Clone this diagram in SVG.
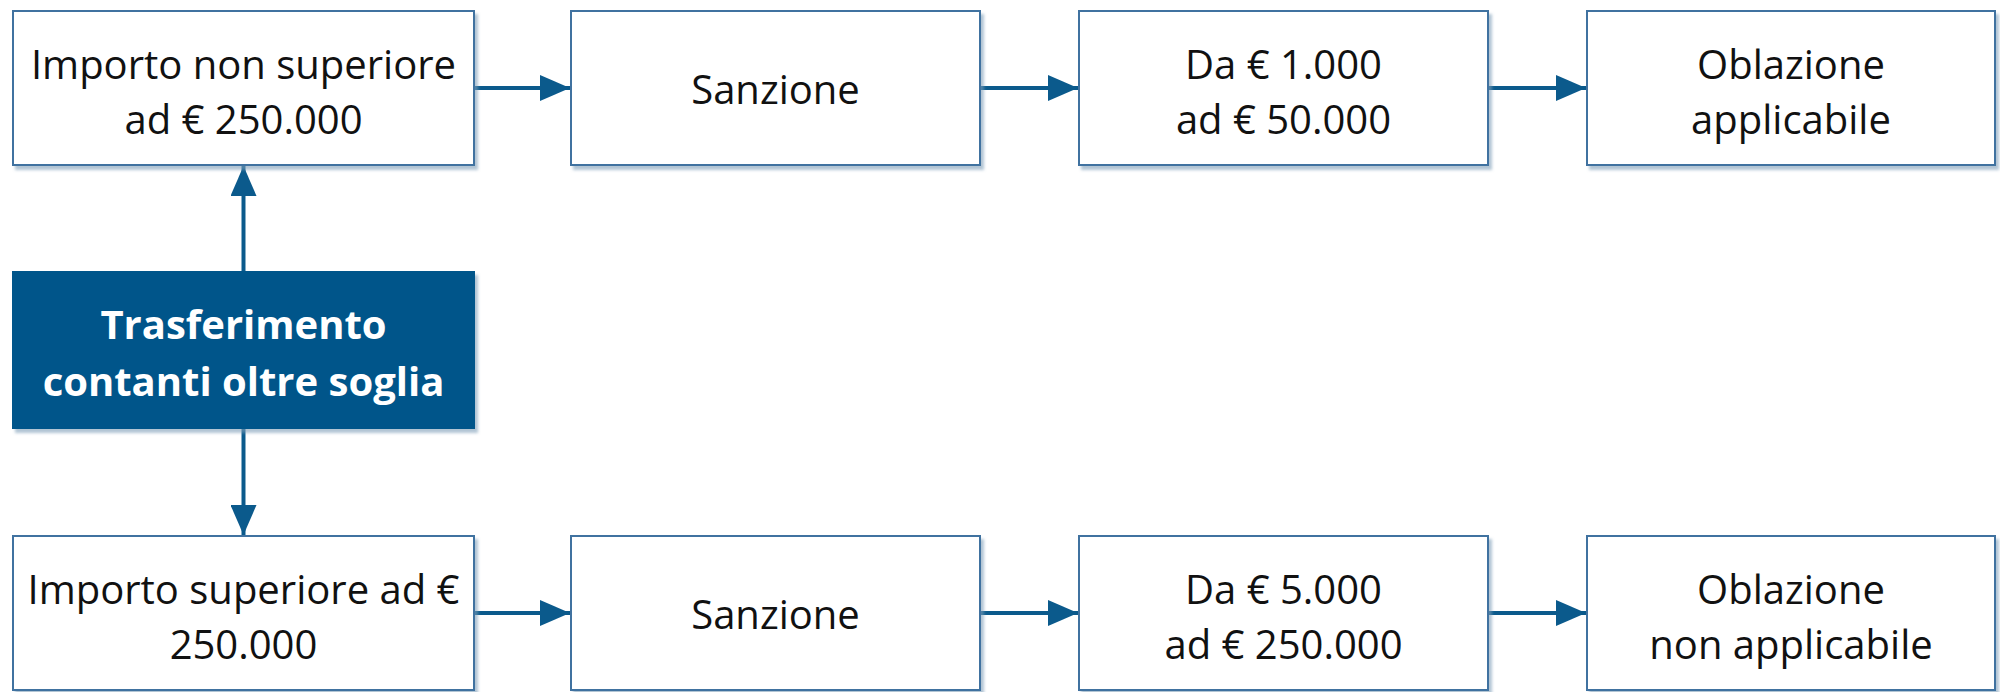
<svg xmlns="http://www.w3.org/2000/svg" width="2000" height="692" viewBox="0 0 2000 692">
  <defs>
    <filter id="sh" x="-5%" y="-5%" width="115%" height="120%">
      <feDropShadow dx="3" dy="4" stdDeviation="1.5" flood-color="#7f9db8" flood-opacity="0.6"/>
    </filter>
    <marker id="ah" markerUnits="userSpaceOnUse" markerWidth="30" markerHeight="26" refX="30" refY="13" orient="auto">
      <path d="M0,0 L30,13 L0,26 Z" fill="#0b5a8c"/>
    </marker>
    <style>
      .box { fill: #ffffff; stroke: #3f72a0; stroke-width: 2; filter: url(#sh); }
      .main { fill: #02558a; stroke: #02558a; stroke-width: 2; filter: url(#sh); }
      .t { font-family: "Open Sans", "Noto Sans", sans-serif; font-size: 40px; fill: #111111; text-anchor: middle; }
      .tb { font-family: "Open Sans", "Noto Sans", sans-serif; font-size: 40px; font-weight: bold; fill: #ffffff; text-anchor: middle; }
      .c { stroke: #0b5a8c; stroke-width: 4; fill: none; marker-end: url(#ah); }
    </style>
  </defs>
  <rect width="2000" height="692" fill="#ffffff"/>

  <g id="connectors">
    <line class="c" x1="243.5" y1="272" x2="243.5" y2="166"/>
    <line class="c" x1="243.5" y1="428" x2="243.5" y2="535"/>
    <line class="c" x1="474" y1="88" x2="570" y2="88"/>
    <line class="c" x1="980" y1="88" x2="1078" y2="88"/>
    <line class="c" x1="1488" y1="88" x2="1586" y2="88"/>
    <line class="c" x1="474" y1="613" x2="570" y2="613"/>
    <line class="c" x1="980" y1="613" x2="1078" y2="613"/>
    <line class="c" x1="1488" y1="613" x2="1586" y2="613"/>
  </g>

  <g id="main">
    <rect class="main" x="13" y="272" width="461" height="156"/>
    <text class="tb" x="243.5" y="339">Trasferimento</text>
    <text class="tb" x="243.5" y="396">contanti oltre soglia</text>
  </g>

  <g id="top1">
    <rect class="box" x="13" y="11" width="461" height="154"/>
    <text class="t" x="243.5" y="79">Importo non superiore</text>
    <text class="t" x="243.5" y="134">ad € 250.000</text>
  </g>
  <g id="top2">
    <rect class="box" x="571" y="11" width="409" height="154"/>
    <text class="t" x="775.5" y="104">Sanzione</text>
  </g>
  <g id="top3">
    <rect class="box" x="1079" y="11" width="409" height="154"/>
    <text class="t" x="1283.5" y="79">Da € 1.000</text>
    <text class="t" x="1283.5" y="134">ad € 50.000</text>
  </g>
  <g id="top4">
    <rect class="box" x="1587" y="11" width="408" height="154"/>
    <text class="t" x="1791" y="79">Oblazione</text>
    <text class="t" x="1791" y="134">applicabile</text>
  </g>

  <g id="bot1">
    <rect class="box" x="13" y="536" width="461" height="154"/>
    <text class="t" x="243.5" y="604">Importo superiore ad €</text>
    <text class="t" x="243.5" y="659">250.000</text>
  </g>
  <g id="bot2">
    <rect class="box" x="571" y="536" width="409" height="154"/>
    <text class="t" x="775.5" y="629">Sanzione</text>
  </g>
  <g id="bot3">
    <rect class="box" x="1079" y="536" width="409" height="154"/>
    <text class="t" x="1283.5" y="604">Da € 5.000</text>
    <text class="t" x="1283.5" y="659">ad € 250.000</text>
  </g>
  <g id="bot4">
    <rect class="box" x="1587" y="536" width="408" height="154"/>
    <text class="t" x="1791" y="604">Oblazione</text>
    <text class="t" x="1791" y="659">non applicabile</text>
  </g>
</svg>
